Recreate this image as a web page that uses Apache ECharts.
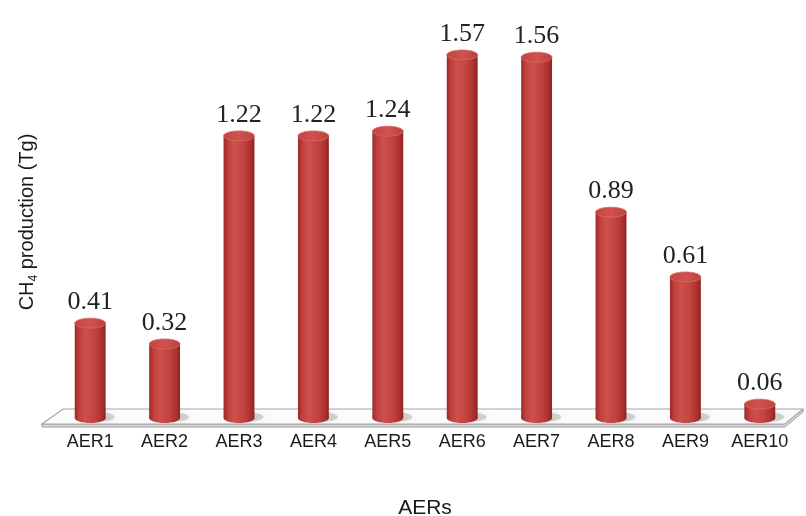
<!DOCTYPE html>
<html>
<head>
<meta charset="utf-8">
<script src="https://cdn.jsdelivr.net/npm/echarts@6/dist/echarts.min.js"></script>
<style>
  html, body { margin: 0; padding: 0; background: #ffffff; }
  #chart { width: 806px; height: 516px; }
</style>
</head>
<body>
<div id="chart"></div>
<script>
// Methane production per agro-ecological region
const categories = ['AER1', 'AER2', 'AER3', 'AER4', 'AER5', 'AER6', 'AER7', 'AER8', 'AER9', 'AER10'];
const production = [0.41, 0.32, 1.22, 1.22, 1.24, 1.57, 1.56, 0.89, 0.61, 0.06];

const chart = echarts.init(document.getElementById('chart'), null, { renderer: 'canvas' });

const SANS = '"Liberation Sans", Arial, sans-serif';

// horizontal shading that makes a rectangle read as a cylinder
function bodyGradient() {
  return new echarts.graphic.LinearGradient(0, 0, 1, 0, [
    { offset: 0.00, color: '#9c2a27' },
    { offset: 0.15, color: '#c0413d' },
    { offset: 0.35, color: '#cc504c' },
    { offset: 0.65, color: '#c2433f' },
    { offset: 0.88, color: '#aa312e' },
    { offset: 1.00, color: '#8e2220' }
  ]);
}

// one 3D cylinder per category, with its value written above it
function renderCylinder(params, api) {
  const base = api.coord([api.value(0), 0]);
  const top = api.coord([api.value(0), api.value(1)]);
  const w = api.size([1, 0])[0] * 0.415;
  const rx = w / 2;
  const ry = 5;
  const cx = base[0];
  return {
    type: 'group',
    children: [
      {
        type: 'ellipse',
        shape: { cx: cx + 6, cy: base[1] - 1, rx: rx + 3, ry: ry },
        style: { fill: 'rgba(110,110,110,0.28)', shadowBlur: 6, shadowColor: 'rgba(110,110,110,0.35)' },
        silent: true
      },
      {
        type: 'ellipse',
        shape: { cx: cx, cy: base[1], rx: rx, ry: ry },
        style: { fill: bodyGradient() }
      },
      {
        type: 'rect',
        shape: { x: cx - rx, y: top[1], width: w, height: base[1] - top[1] },
        style: { fill: bodyGradient() }
      },
      {
        type: 'ellipse',
        shape: { cx: cx, cy: top[1], rx: rx, ry: ry },
        style: {
          fill: new echarts.graphic.LinearGradient(0, 0, 1, 0, [
            { offset: 0, color: '#c4443f' },
            { offset: 0.5, color: '#d0524e' },
            { offset: 1, color: '#b9413d' }
          ]),
          stroke: '#d66a66',
          lineWidth: 0.8
        }
      },
      {
        type: 'text',
        style: {
          text: api.value(1).toFixed(2),
          x: cx,
          y: top[1] - 8,
          align: 'center',
          verticalAlign: 'bottom',
          fill: '#222222',
          font: '26px "Liberation Serif", "Times New Roman", serif'
        }
      }
    ]
  };
}

// the thin slab the cylinders stand on
function renderFloor(params, api) {
  const cs = params.coordSys;
  const y0 = api.coord([0, 0])[1];
  const left = cs.x;
  const right = cs.x + cs.width;
  const backY = y0 - 9;
  const frontY = y0 + 6;
  const pts = [
    [left + 10, backY],
    [right + 6, backY],
    [right - 12, frontY],
    [left - 11, frontY]
  ];
  return {
    type: 'group',
    children: [
      {
        type: 'polygon',
        shape: { points: [[left - 11, frontY], [right - 12, frontY], [right + 6, backY], [right + 6, backY + 3], [right - 12, frontY + 3], [left - 11, frontY + 3]] },
        style: { fill: '#dcdcdc', stroke: '#9a9a9a', lineWidth: 1 }
      },
      {
        type: 'polygon',
        shape: { points: pts },
        style: { fill: '#fbfbfb', stroke: '#a8a8a8', lineWidth: 1.2 }
      }
    ]
  };
}

chart.setOption({
  backgroundColor: '#ffffff',
  animation: false,
  grid: { left: 53, right: 9, top: 48, bottom: 98, outerBoundsMode: 'none', containLabel: false },
  xAxis: {
    type: 'category',
    data: categories,
    axisLine: { show: false },
    axisTick: { show: false },
    axisLabel: {
      margin: 15,
      color: '#1a1a1a',
      fontSize: 18,
      fontFamily: SANS
    },
    name: 'AERs',
    nameLocation: 'middle',
    nameGap: 80,
    nameTextStyle: { color: '#1a1a1a', fontSize: 21, fontFamily: SANS }
  },
  yAxis: {
    type: 'value',
    min: 0,
    max: 1.6,
    axisLine: { show: false },
    axisTick: { show: false },
    axisLabel: { show: false },
    splitLine: { show: false },
    name: '{a|CH}{s|4}{a| production (Tg)}',
    nameLocation: 'middle',
    nameGap: 13,
    nameTextStyle: {
      color: '#1a1a1a',
      fontFamily: SANS,
      padding: [0, 0, 0, 22],
      rich: {
        a: { fontSize: 20, color: '#1a1a1a', fontFamily: SANS, lineHeight: 26 },
        s: { fontSize: 12, color: '#1a1a1a', fontFamily: SANS, lineHeight: 26, verticalAlign: 'bottom', padding: [8, 0, 0, 0] }
      }
    }
  },
  series: [
    {
      type: 'custom',
      name: 'floor',
      renderItem: renderFloor,
      data: [[0, 0]],
      silent: true,
      z: 1
    },
    {
      type: 'custom',
      name: 'CH4 production',
      renderItem: renderCylinder,
      data: production.map((v, i) => [i, v]),
      encode: { x: 0, y: 1 },
      z: 2
    }
  ]
});
</script>
</body>
</html>
